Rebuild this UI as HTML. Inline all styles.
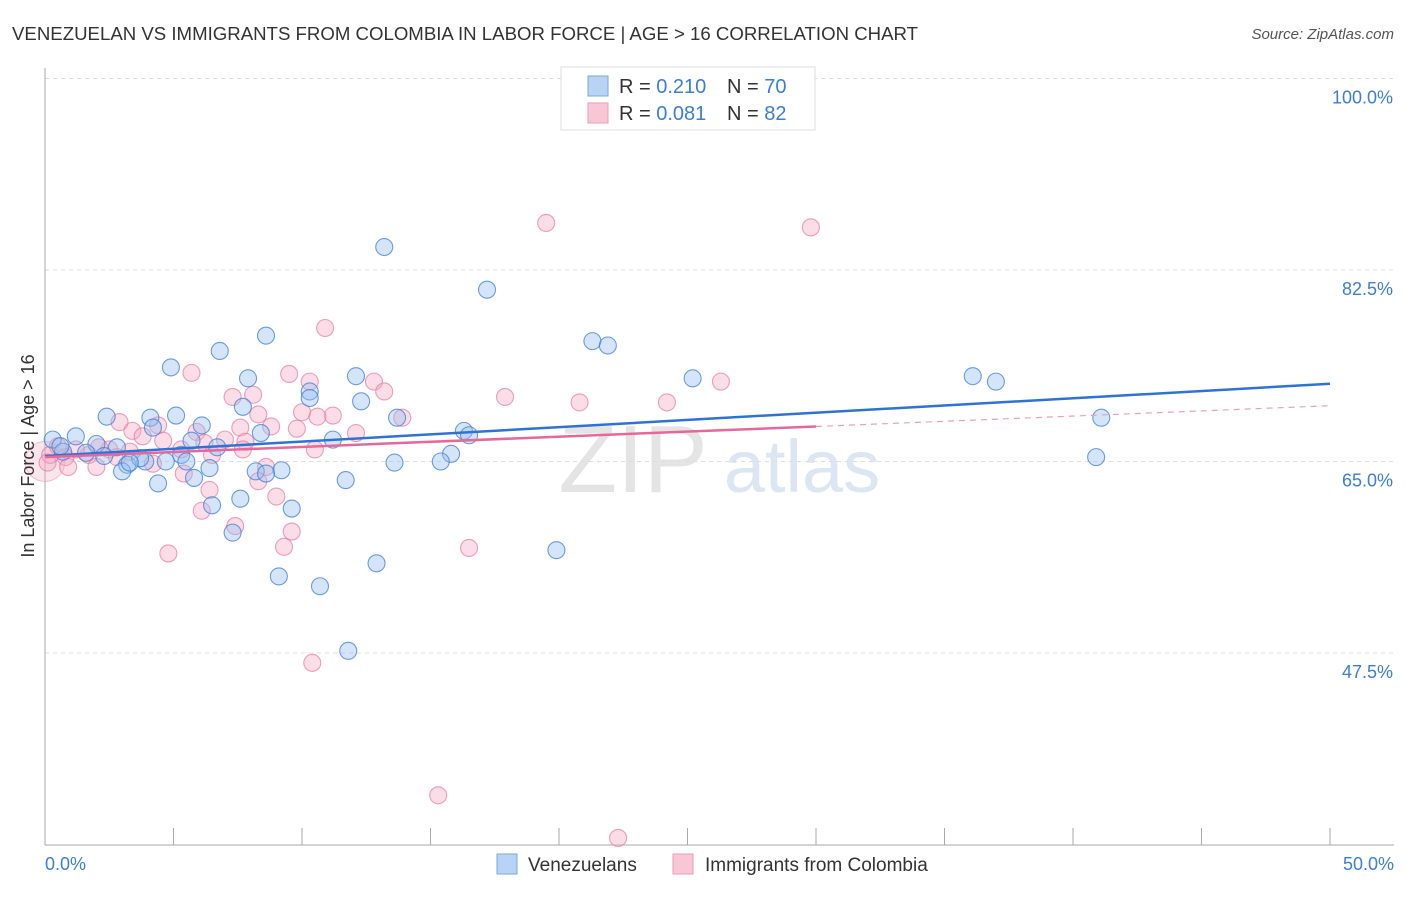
<!DOCTYPE html>
<html><head><meta charset="utf-8"><style>
body{margin:0;background:#fff;font-family:"Liberation Sans",sans-serif;}
svg text{font-family:"Liberation Sans",sans-serif;}
</style></head><body>
<svg id="chart" width="1406" height="892" viewBox="0 0 1406 892">
<text x="12" y="40" font-size="18" fill="#333" textLength="906" lengthAdjust="spacingAndGlyphs">VENEZUELAN VS IMMIGRANTS FROM COLOMBIA IN LABOR FORCE | AGE &gt; 16 CORRELATION CHART</text>
<text x="1394" y="39" font-size="15" fill="#555" text-anchor="end" font-style="italic">Source: ZipAtlas.com</text>
<text x="633" y="492" font-size="96" fill="#e4e4e4" font-family="Liberation Serif" text-anchor="middle">ZIP</text>
<text x="802" y="492" font-size="74" fill="#dce6f3" text-anchor="middle">atlas</text>
<g id="grid"></g>
<g id="axes"></g>
<g id="pts"></g>
<g id="trend"></g>
<text transform="translate(34,456) rotate(-90)" font-size="18" fill="#333" text-anchor="middle">In Labor Force | Age &gt; 16</text>
<g>
<rect x="561" y="67" width="254" height="63" fill="#fff" stroke="#ddd"/>
<rect x="588" y="76" width="20" height="20" fill="#b8d4f5" stroke="#7aa6e0"/>
<rect x="588" y="103" width="20" height="20" fill="#f9c6d6" stroke="#ee9ab5"/>
<text x="619" y="93" font-size="20" fill="#333">R = <tspan fill="#3b7dd8">0.210</tspan></text>
<text x="727" y="93" font-size="20" fill="#333">N = <tspan fill="#3b7dd8">70</tspan></text>
<text x="619" y="120" font-size="20" fill="#333">R = <tspan fill="#3b7dd8">0.081</tspan></text>
<text x="727" y="120" font-size="20" fill="#333">N = <tspan fill="#3b7dd8"> 82</tspan></text>
</g>
<g>
<rect x="497" y="854" width="20" height="20" fill="#b8d4f5" stroke="#7aa6e0"/>
<text x="528" y="871" font-size="19" fill="#333">Venezuelans</text>
<rect x="673" y="854" width="20" height="20" fill="#f9c6d6" stroke="#ee9ab5"/>
<text x="705" y="871" font-size="19" fill="#333">Immigrants from Colombia</text>
</g>
</svg>
<script>
const blueX=[13.2,17.2,21.3,21.9,8.6,6.8,4.9,7.9,12.1,10.3,10.3,12.3,7.7,25.2,36.1,37.0,41.1,40.9,2.4,4.1,5.1,6.1,4.2,8.4,13.7,16.3,16.5,11.2,5.7,1.2,0.3,2.0,2.8,6.7,5.3,15.8,15.4,13.6,5.5,4.7,3.9,3.2,3.0,6.4,9.2,8.2,8.6,5.8,4.4,11.7,7.6,6.5,9.6,7.3,19.9,12.9,9.1,10.7,11.8,0.7,1.6,2.3,3.7,0.6,3.3];
const blueY=[84.6,80.7,76.0,75.6,76.5,75.1,73.6,72.6,72.8,71.4,70.8,70.5,70.0,72.6,72.8,72.3,69.0,65.4,69.1,69.0,69.2,68.3,68.1,67.6,69.0,67.8,67.4,67.0,66.9,67.3,67.0,66.6,66.3,66.3,65.6,65.7,65.0,64.9,65.0,65.0,65.0,64.7,64.1,64.4,64.2,64.1,63.9,63.5,63.0,63.3,61.6,61.0,60.7,58.5,56.9,55.7,54.5,53.6,47.7,65.9,65.8,65.5,65.3,66.4,64.9];
const pinkX=[19.5,29.8,10.9,5.7,9.5,10.3,12.8,13.2,26.3,8.1,7.3,17.9,20.8,24.2,10.0,11.2,10.6,8.3,13.9,2.9,4.4,3.4,7.6,9.8,8.8,12.1,5.9,3.8,4.6,7.0,7.8,6.2,5.3,7.7,10.5,2.5,1.7,0.8,0.2,0.1,0.9,2.0,2.8,4.2,6.5,8.6,5.4,8.3,6.4,9.0,6.1,7.4,9.6,9.3,16.5,4.8,10.4,15.3,22.3,2.1,1.2,3.3,0.5];
const pinkY=[86.8,86.4,77.2,73.1,73.0,72.3,72.3,71.4,72.3,71.1,70.9,70.9,70.4,70.4,69.5,69.2,69.1,69.3,69.0,68.6,68.3,67.8,68.1,68.0,68.2,67.6,67.7,67.3,66.9,67.0,66.8,66.7,66.1,66.1,66.1,66.1,65.6,65.4,65.6,64.9,64.5,64.5,65.4,64.8,65.6,64.5,63.9,63.2,62.4,61.8,60.5,59.1,58.6,57.2,57.1,56.6,46.6,34.5,30.6,66.3,66.1,65.9,66.4];
const yTicks=[100,82.5,65,47.5];
const blueTrend=[0,65.5,50,72.1];
const pinkTrend=[0,65.4,30,68.2,50,70.1];
const NS="http://www.w3.org/2000/svg";
const sx=v=>45+v*25.7;
const sy=v=>78.5+(100-v)*10.943;
function mk(tag,attrs,parent){const e=document.createElementNS(NS,tag);for(const k in attrs)e.setAttribute(k,attrs[k]);parent.appendChild(e);return e;}
const grid=document.getElementById('grid'),axes=document.getElementById('axes'),pts=document.getElementById('pts'),trend=document.getElementById('trend');
yTicks.forEach(t=>{
 const l=mk('line',{x1:45,x2:1394,y1:sy(t),y2:sy(t),stroke:'#ddd','stroke-dasharray':'4,4'},grid);
 
 
 const tx=mk('text',{x:1393,y:sy(t)+25,'font-size':18,fill:'#3b7dd8','text-anchor':'end'},axes);
 tx.textContent=(t===100?'100.0':t.toFixed(1))+'%';
 
 
});
const ax=mk('line',{x1:45,x2:1394,y1:845,y2:845,stroke:'#aaa'},axes);


const ay=mk('line',{x1:45,x2:45,y1:68,y2:845,stroke:'#aaa'},axes);


for(let i=0;i<=10;i++){
 const t=mk('line',{x1:sx(i*5),x2:sx(i*5),y1:828,y2:845,stroke:'#aaa'},axes);
 
 
}
const xl=mk('text',{x:45,y:870,'font-size':18,fill:'#3b7dd8'},axes);xl.textContent='0.0%';


const xr=mk('text',{x:1394,y:870,'font-size':18,fill:'#3b7dd8','text-anchor':'end'},axes);xr.textContent='50.0%';


const big=mk('circle',{cx:sx(0),cy:sy(65),r:20,fill:'rgba(240,170,195,0.3)',stroke:'rgba(230,140,170,0.5)'},pts);


pinkX.forEach((x,i)=>{
 const c=mk('circle',{cx:sx(x),cy:sy(pinkY[i]),r:8.5,fill:'rgba(246,170,195,0.4)',stroke:'rgba(232,120,160,0.7)','stroke-width':1.1},pts);
 
 
});
blueX.forEach((x,i)=>{
 const c=mk('circle',{cx:sx(x),cy:sy(blueY[i]),r:8.5,fill:'rgba(150,190,240,0.4)',stroke:'rgba(60,125,215,0.75)','stroke-width':1.1},pts);
 
 
});
const bl=mk('line',{x1:sx(blueTrend[0]),y1:sy(blueTrend[1]),x2:sx(blueTrend[2]),y2:sy(blueTrend[3]),stroke:'#2f72d6','stroke-width':2.5},trend);


const pl=mk('line',{x1:sx(pinkTrend[0]),y1:sy(pinkTrend[1]),x2:sx(pinkTrend[2]),y2:sy(pinkTrend[3]),stroke:'#e8679a','stroke-width':2.5},trend);


const pd=mk('line',{x1:sx(pinkTrend[2]),y1:sy(pinkTrend[3]),x2:sx(pinkTrend[4]),y2:sy(pinkTrend[5]),stroke:'#e8a0bb','stroke-width':1.2,'stroke-dasharray':'6,5'},trend);


</script>
</body></html>
